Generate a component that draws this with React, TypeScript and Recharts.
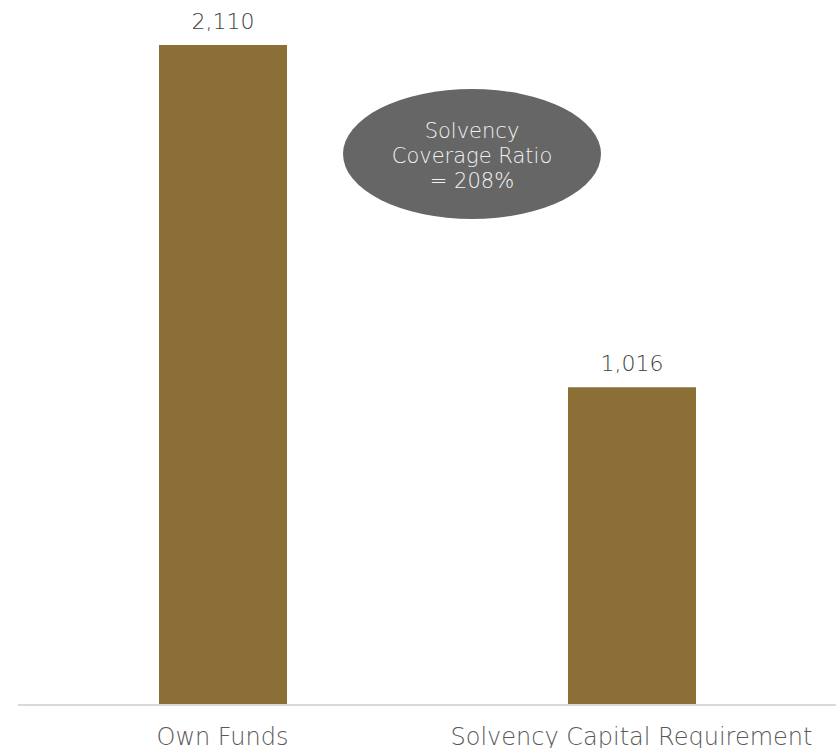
import { BarChart, Bar, XAxis, YAxis, LabelList } from "recharts";

// Solvency II: own funds vs SCR (EUR m)
const categories = ["Own Funds", "Solvency Capital Requirement"];
const values = [2110, 1016];
const ratioLines = ["Solvency", "Coverage Ratio", "= 208%"];

const data = categories.map((name, i) => ({ name, value: values[i] }));

const FONT = "'DejaVu Sans', sans-serif";
const BAR_COLOR = "#8C6F37";

export default function App() {
  return (
    <div style={{ position: "absolute", left: 0, top: 0, width: 836, height: 748, fontFamily: FONT }}>
      <BarChart width={836} height={748} data={data} margin={{ top: 45, right: 0, left: 18, bottom: 0 }}>
        <XAxis
          dataKey="name"
          height={43}
          tickLine={false}
          tickSize={0}
          tickMargin={23}
          axisLine={{ stroke: "#d9d9d9", strokeWidth: 2 }}
          tick={{ fill: "#595959", fontSize: 24, fontFamily: FONT, fontWeight: 200 }}
        />
        <YAxis hide domain={[0, 2110]} />
        <Bar dataKey="value" fill={BAR_COLOR} barSize={128} isAnimationActive={false}>
          <LabelList
            dataKey="value"
            position="top"
            offset={16}
            formatter={(v: any) => Number(v).toLocaleString("en-US")}
            style={{ fill: "#404040", fontSize: 22, fontFamily: FONT, fontWeight: 200 }}
          />
        </Bar>
      </BarChart>
      {/* coverage ratio bubble */}
      <svg width={836} height={748} style={{ position: "absolute", left: 0, top: 0, pointerEvents: "none" }}>
        <ellipse cx={472} cy={154} rx={129} ry={65} fill="#666666" />
        {ratioLines.map((t, i) => (
          <text key={t} x={472} y={138 + i * 25} textAnchor="middle" fill="#f2f2f2" fontSize={21} fontFamily={FONT} fontWeight={200}>
            {t}
          </text>
        ))}
      </svg>
    </div>
  );
}
